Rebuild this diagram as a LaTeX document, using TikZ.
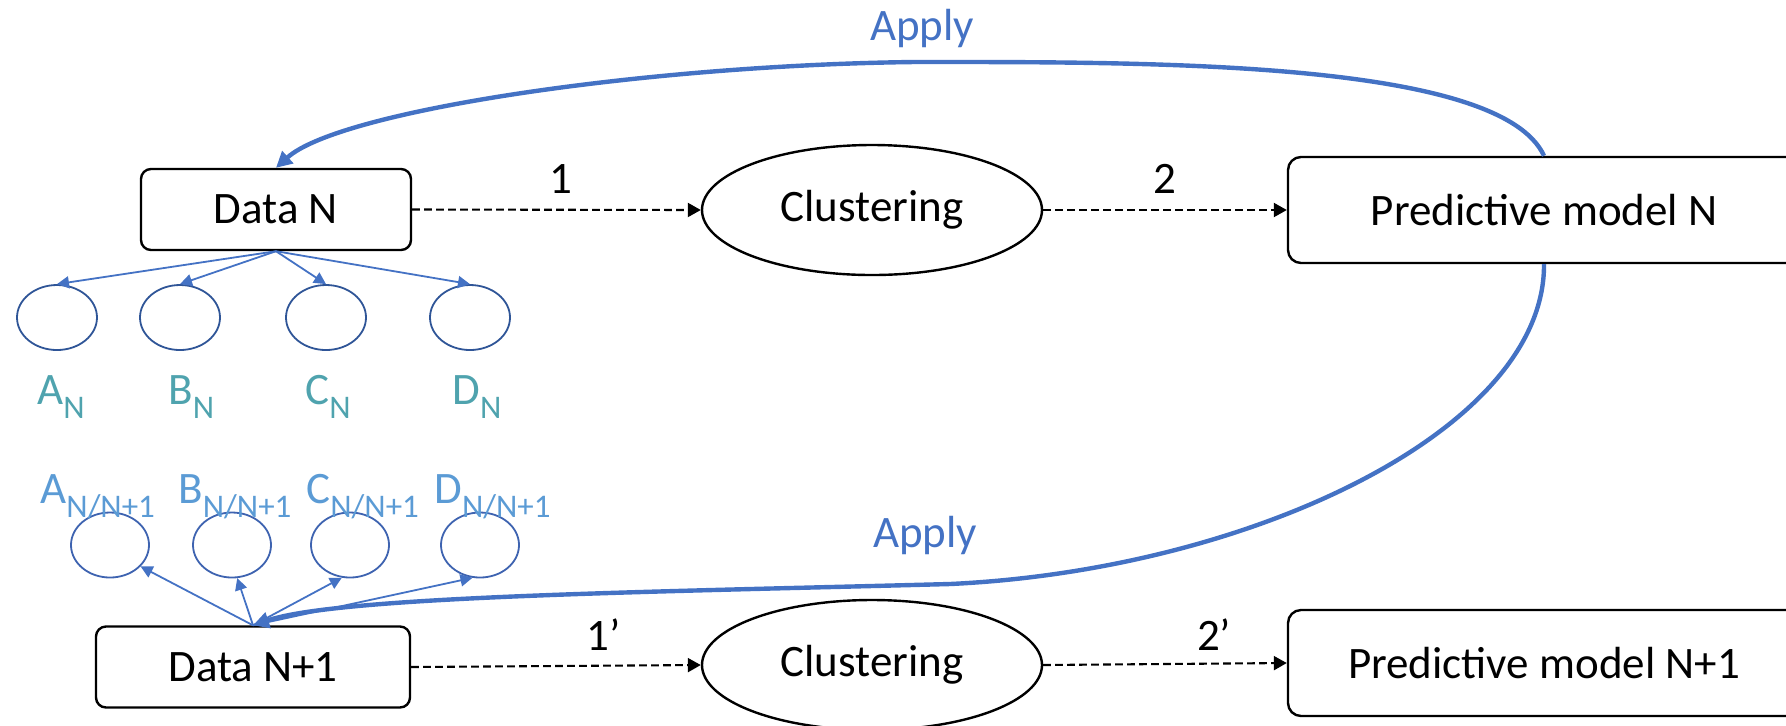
\documentclass[tikz,border=0pt]{standalone}
\usepackage{fontspec}
\setmainfont{Carlito}
\usetikzlibrary{arrows.meta,shapes.geometric}
\definecolor{applyblue}{HTML}{4472C4}
\definecolor{navyA}{HTML}{2F5597}
\definecolor{navyB}{HTML}{3E63B0}
\definecolor{tealL}{HTML}{4FA3AE}
\definecolor{skyL}{HTML}{5B9BD5}
\newcommand\subx[1]{\raisebox{-7pt}{\fontsize{16.5}{16.5}\selectfont #1}}
\begin{document}
\begin{tikzpicture}[x=0.5pt,y=-0.5pt,
  every node/.style={font=\fontsize{22.5}{27}\selectfont},
  rbox/.style={draw, rounded corners=5pt, line width=1.2pt, minimum height=40.5pt, inner sep=0pt},
  pbox/.style={draw, rounded corners=6.5pt, line width=1.2pt, minimum width=256pt, minimum height=53pt, inner sep=0pt},
  clus/.style={draw, ellipse, line width=1.2pt, minimum width=170pt, minimum height=65pt, inner sep=0pt},
  smallA/.style={draw=navyA, ellipse, line width=0.9pt, minimum width=40pt, minimum height=32.5pt, inner sep=0pt},
  smallB/.style={draw=navyB, ellipse, line width=0.9pt, minimum width=39pt, minimum height=32.5pt, inner sep=0pt},
  dflow/.style={line width=1.05pt, dash pattern=on 3.8pt off 2.2pt, -{Triangle[length=6.5pt,width=7pt]}},
  split/.style={applyblue, line width=0.9pt, -{Triangle[length=6pt,width=6pt]}},
  applyline/.style={applyblue, line width=2.2pt, -{Triangle[length=8pt,width=8pt]}},
  lblA/.style={tealL, anchor=base west, inner sep=0pt},
  lblB/.style={skyL, anchor=base west, inner sep=0pt},
  numlbl/.style={anchor=base, inner sep=0pt},
  applylbl/.style={applyblue, anchor=base, inner sep=0pt}
  ]
\clip (0,0) rectangle (1786,725);

% main nodes
\node[rbox, minimum width=135pt] (DN) at (276,209.5) {Data N};
\node[clus] (CL1) at (872,210) {Clustering};
\node[pbox] (PN) at (1544,210) {Predictive model N};

\node[rbox, minimum width=157pt] (DN1) at (253,667) {Data N+1};
\node[clus] (CL2) at (872,665) {Clustering};
\node[pbox] (PN1) at (1544,663) {Predictive model N+1};

% flow arrows
\draw[dflow] (DN.east) -- (CL1.west);
\draw[dflow] (CL1.east) -- (PN.west);
\draw[dflow] (DN1.east) -- (CL2.west);
\draw[dflow] (CL2.east) -- (PN1.west);
\node[numlbl] (n1) at (561,193) {1};
\node[numlbl] (n2) at (1165,193) {2};
\node[numlbl] (n1p) at (604,650) {1’};
\node[numlbl] (n2p) at (1214,650) {2’};

% top small clusters
\node[smallA] (AN) at (57,317.5) {};
\node[smallA] (BN) at (180,317.5) {};
\node[smallA] (CN) at (326,317.5) {};
\node[smallA] (DNc) at (470,317.5) {};
\draw[split] (DN.south) -- (AN.north);
\draw[split] (DN.south) -- (BN.north);
\draw[split] (DN.south) -- (CN.north);
\draw[split] (DN.south) -- (DNc.north);
\node[lblA] (lAN) at (37,404) {A\subx{N}};
\node[lblA] (lBN) at (168,404) {B\subx{N}};
\node[lblA] (lCN) at (305,404) {C\subx{N}};
\node[lblA] (lDN) at (452,404) {D\subx{N}};

% bottom small clusters
\node[smallB] (AM) at (110,545) {};
\node[smallB] (BM) at (232,545) {};
\node[smallB] (CM) at (350,545) {};
\node[smallB] (DM) at (480,545) {};
\draw[split] (DN1.north) -- (AM.-35);
\draw[split] (DN1.north) -- (BM.-81);
\draw[split] (DN1.north) -- (CM.-104);
\draw[split] (DN1.north) -- (DM.-103);
\node[lblB] (lAM) at (40,503) {A\subx{N/N+1}};
\node[lblB] (lBM) at (178,503) {B\subx{N/N+1}};
\node[lblB] (lCM) at (306,503) {C\subx{N/N+1}};
\node[lblB] (lDM) at (434,503) {D\subx{N/N+1}};

% apply curves
\draw[applyline] (PN.north) .. controls (1500,60) and (1150,62) .. (915,62)
  .. controls (650,65) and (340,110) .. (DN.north);
\node[applylbl] (ap1) at (922,40) {Apply};

\draw[applyline] (PN.south) .. controls (1545,430) and (1250,570) .. (950,584)
  .. controls (650,592) and (340,596) .. (DN1.north);
\node[applylbl] (ap2) at (925,547) {Apply};
\end{tikzpicture}
\end{document}
